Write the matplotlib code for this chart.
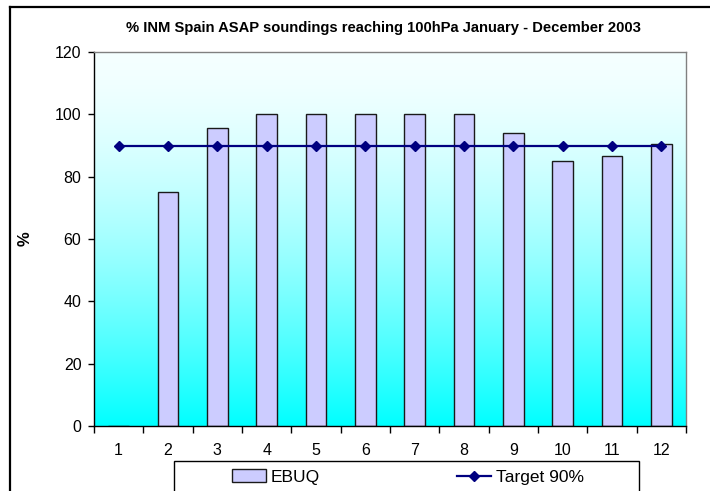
import numpy as np
import matplotlib
matplotlib.use("Agg")
import matplotlib.pyplot as plt
from matplotlib.lines import Line2D
from matplotlib.patches import Rectangle

# Monthly share of soundings reaching 100 hPa
months = [1, 2, 3, 4, 5, 6, 7, 8, 9, 10, 11, 12]
ebuq = [0, 75, 95.5, 100, 100, 100, 100, 100, 94, 85, 86.7, 90.5]
target = [90, 90, 90, 90, 90, 90, 90, 90, 90, 90, 90, 90]
y_ticks = [0, 20, 40, 60, 80, 100, 120]

title = "% INM Spain ASAP soundings reaching 100hPa January - December 2003"
bar_label = "EBUQ"
line_label = "Target 90%"

plt.rcParams["font.family"] = ["Liberation Sans", "DejaVu Sans"]

W, H = 710, 491
fig = plt.figure(figsize=(W / 100, H / 100), dpi=100)
fig.patch.set_facecolor("white")

# plot area in pixels: left 94, right 686, top 52, bottom 426
ax = fig.add_axes([94 / W, (H - 426) / H, 592 / W, 374 / H])

# white-to-cyan vertical gradient behind the data (row 0 = top)
t = np.linspace(0, 1, 256)
red = 0.96 * (1 - t ** 1.6)
grad = np.stack([red, np.ones_like(t), np.ones_like(t)], axis=1)[:, None, :]
ax.imshow(grad, extent=[0, 1, 0, 1], transform=ax.transAxes, origin="upper",
          aspect="auto", zorder=0, interpolation="bilinear")

bars = ax.bar(months, ebuq, width=0.42, color="#CCCCFF", edgecolor="#1a1a1a",
              linewidth=1.0, zorder=2, label=bar_label)
line, = ax.plot(months, target, color="#000080", linewidth=1.6, marker="D",
                markersize=5.5, markerfacecolor="#000080",
                markeredgecolor="#000080", zorder=3, label=line_label)

ax.set_xlim(0.5, 12.5)
ax.set_ylim(0, 120)
ax.set_yticks(y_ticks)
ax.set_yticklabels([str(v) for v in y_ticks], fontsize=11.5)
ax.tick_params(axis="y", direction="out", length=4, width=1, pad=5, color="black")

# category labels centred, tick marks on category boundaries
ax.set_xticks(months)
ax.set_xticklabels([str(m) for m in months], fontsize=11.5)
ax.set_xticks(np.arange(0.5, 13, 1), minor=True)
ax.tick_params(axis="x", which="major", length=0, pad=12)
ax.tick_params(axis="x", which="minor", direction="out", length=5, width=1,
               color="black")

for side in ("top", "right"):
    ax.spines[side].set_color("#808080")
    ax.spines[side].set_linewidth(1.0)
for side in ("left", "bottom"):
    ax.spines[side].set_color("black")
    ax.spines[side].set_linewidth(1.0)

ax.set_ylabel("%", fontsize=12, fontweight="bold")
ax.yaxis.set_label_coords((33 - 94) / 592, 0.5)

fig.text(383 / W, 1 - 28 / H, title, ha="center", va="center",
         fontsize=10.6, fontweight="bold")

# chart frame (continues past the image edges)
fig.add_artist(Line2D([10 / W, 1.0], [1 - 7 / H, 1 - 7 / H],
                      transform=fig.transFigure, color="black", linewidth=1.6))
fig.add_artist(Line2D([10 / W, 10 / W], [0.0, 1 - 7 / H],
                      transform=fig.transFigure, color="black", linewidth=1.6))

# legend box
fig.add_artist(Rectangle((174 / W, -0.05), (639 - 174) / W, 0.05 + (H - 461) / H,
                         transform=fig.transFigure, facecolor="white",
                         edgecolor="black", linewidth=1.0, zorder=5))
leg = fig.legend(handles=[bars, line], labels=[bar_label, line_label],
                 loc="center left", bbox_to_anchor=(232 / W, 1 - 477 / H),
                 ncol=2, frameon=False, fontsize=12.5, borderpad=0,
                 borderaxespad=0, handlelength=1.95, handletextpad=0.3,
                 columnspacing=7.9)
leg.set_zorder(6)

fig.savefig("out.png", dpi=100)
